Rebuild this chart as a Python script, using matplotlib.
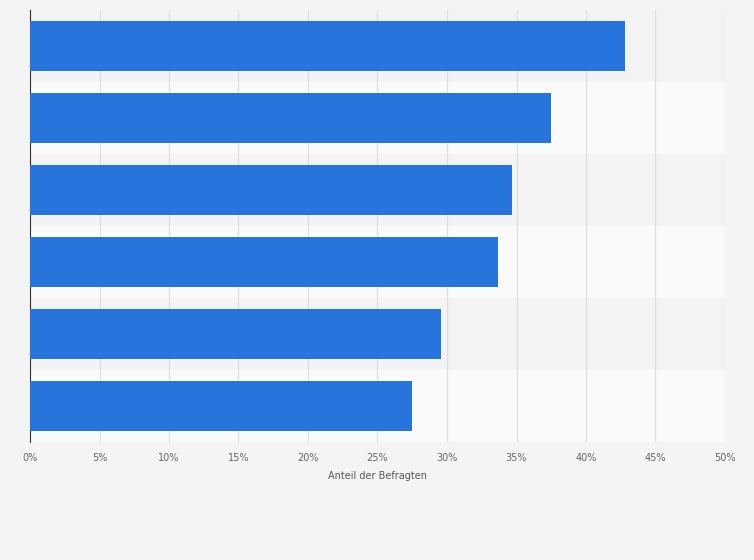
import matplotlib.pyplot as plt
from matplotlib.ticker import FuncFormatter

values = [42.8, 37.5, 34.7, 33.7, 29.6, 27.5]
ticks = [0, 5, 10, 15, 20, 25, 30, 35, 40, 45, 50]

fig = plt.figure(figsize=(7.54, 5.6), dpi=100)
fig.patch.set_facecolor("#f4f4f4")
ax = fig.add_axes([30 / 754, 1 - 442 / 560, 695 / 754, 432 / 560])
ax.set_facecolor("#f4f4f4")

n = len(values)
pos = list(range(n))[::-1]
for i, p in enumerate(pos):
    ax.axhspan(p - 0.5, p + 0.5, color="#f3f3f3" if i % 2 == 0 else "#fafafa", zorder=0)

ax.barh(pos, values, height=0.7, color="#2775dc", zorder=3)
ax.set_xlim(0, 50)
ax.set_ylim(-0.5, n - 0.5)
ax.set_xticks(ticks)
ax.xaxis.set_major_formatter(FuncFormatter(lambda v, _: f"{v:.0f}%"))
ax.set_yticks([])
ax.grid(axis="x", color="#dddddd", lw=0.8, zorder=1)
ax.tick_params(axis="x", length=0, labelsize=7, colors="#666666", pad=8)
for s in ["top", "right", "bottom"]:
    ax.spines[s].set_visible(False)
ax.spines["left"].set_color("#333333")
ax.spines["left"].set_linewidth(0.8)
ax.set_xlabel("Anteil der Befragten", fontsize=7, color="#555555", labelpad=6)

fig.savefig("out.png", dpi=100, facecolor=fig.get_facecolor())
